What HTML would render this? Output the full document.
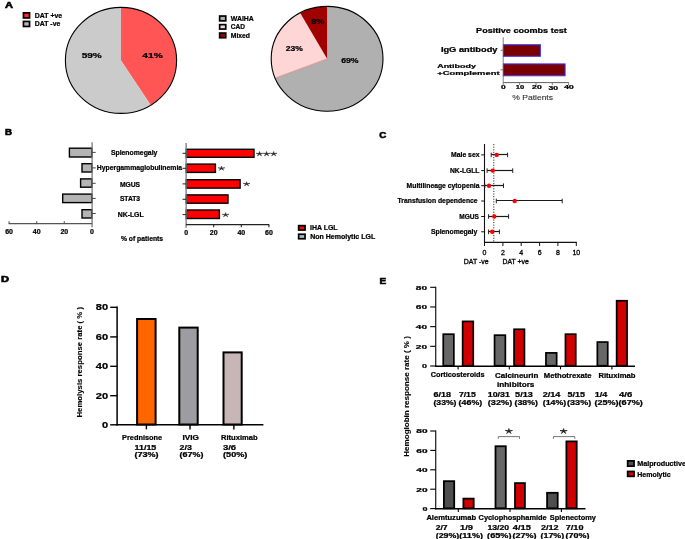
<!DOCTYPE html>
<html><head><meta charset="utf-8"><style>
html,body{margin:0;padding:0;background:#fff;}
svg{display:block;will-change:transform;font-family:"Liberation Sans",sans-serif;}
</style></head><body>
<svg width="685" height="539" viewBox="0 0 685 539">
<rect width="685" height="539" fill="#fff"/>
<text x="5.10" y="7.70" font-size="9.01" font-weight="bold" text-anchor="start" fill="#000" textLength="8.00" lengthAdjust="spacingAndGlyphs" stroke="#000" stroke-width="0.6">A</text>
<rect x="23.45" y="12.85" width="6.10" height="5.10" fill="#FF2A2A" stroke="#000" stroke-width="1.7"/>
<rect x="23.45" y="21.45" width="6.10" height="5.00" fill="#B8B8B8" stroke="#000" stroke-width="1.7"/>
<text x="34.80" y="17.70" font-size="6.69" font-weight="bold" text-anchor="start" fill="#000" textLength="27.40" lengthAdjust="spacingAndGlyphs" stroke="#000" stroke-width="0.22">DAT +ve</text>
<text x="34.80" y="26.10" font-size="6.69" font-weight="bold" text-anchor="start" fill="#000" textLength="25.50" lengthAdjust="spacingAndGlyphs" stroke="#000" stroke-width="0.22">DAT -ve</text>
<path d="M121.00,60.40 L121.00,7.40 A55.6,53 0 0 1 150.79,105.15 Z" fill="#FF5555" stroke="none" stroke-width="0"/>
<path d="M121.00,60.40 L150.79,105.15 A55.6,53 0 1 1 121.00,7.40 Z" fill="#CBCBCB" stroke="none" stroke-width="0"/>
<ellipse cx="121" cy="60.4" rx="55.6" ry="53" fill="none" stroke="#000" stroke-width="1.1"/>
<text x="81.70" y="58.20" font-size="7.41" font-weight="bold" text-anchor="start" fill="#000" textLength="20.10" lengthAdjust="spacingAndGlyphs" stroke="#000" stroke-width="0.22">59%</text>
<text x="142.30" y="58.20" font-size="7.41" font-weight="bold" text-anchor="start" fill="#000" textLength="20.40" lengthAdjust="spacingAndGlyphs" stroke="#000" stroke-width="0.22">41%</text>
<rect x="219.65" y="16.05" width="6.10" height="4.80" fill="#B0B0B0" stroke="#000" stroke-width="1.7"/>
<rect x="219.65" y="24.65" width="6.10" height="4.40" fill="#FFD6D6" stroke="#000" stroke-width="1.7"/>
<rect x="219.65" y="33.05" width="6.10" height="4.70" fill="#A00000" stroke="#000" stroke-width="1.7"/>
<text x="230.80" y="20.70" font-size="6.69" font-weight="bold" text-anchor="start" fill="#000" textLength="23.00" lengthAdjust="spacingAndGlyphs" stroke="#000" stroke-width="0.22">WAIHA</text>
<text x="230.80" y="29.30" font-size="6.69" font-weight="bold" text-anchor="start" fill="#000" textLength="14.20" lengthAdjust="spacingAndGlyphs" stroke="#000" stroke-width="0.22">CAD</text>
<text x="230.80" y="37.90" font-size="6.69" font-weight="bold" text-anchor="start" fill="#000" textLength="19.10" lengthAdjust="spacingAndGlyphs" stroke="#000" stroke-width="0.22">Mixed</text>
<path d="M327.10,58.80 L327.10,6.40 A55.9,52.4 0 1 1 275.13,78.09 Z" fill="#B0B0B0" stroke="none" stroke-width="0"/>
<path d="M327.10,58.80 L275.13,78.09 A55.9,52.4 0 0 1 300.17,12.88 Z" fill="#FFD6D6" stroke="none" stroke-width="0"/>
<path d="M327.10,58.80 L300.17,12.88 A55.9,52.4 0 0 1 327.10,6.40 Z" fill="#A00000" stroke="none" stroke-width="0"/>
<line x1="327.10" y1="58.80" x2="275.13" y2="78.09" stroke="#F08080" stroke-width="0.7"/>
<ellipse cx="327.1" cy="58.8" rx="55.9" ry="52.4" fill="none" stroke="#000" stroke-width="1.1"/>
<text x="311.30" y="24.00" font-size="6.98" font-weight="bold" text-anchor="start" fill="#000" textLength="13.10" lengthAdjust="spacingAndGlyphs" stroke="#000" stroke-width="0.22">8%</text>
<text x="285.80" y="50.90" font-size="6.98" font-weight="bold" text-anchor="start" fill="#000" textLength="17.00" lengthAdjust="spacingAndGlyphs" stroke="#000" stroke-width="0.22">23%</text>
<text x="341.20" y="63.10" font-size="6.98" font-weight="bold" text-anchor="start" fill="#000" textLength="17.40" lengthAdjust="spacingAndGlyphs" stroke="#000" stroke-width="0.22">69%</text>
<text x="476.10" y="32.60" font-size="6.69" font-weight="bold" text-anchor="start" fill="#000" textLength="90.70" lengthAdjust="spacingAndGlyphs" stroke="#000" stroke-width="0.22">Positive coombs test</text>
<line x1="503.20" y1="37.30" x2="503.20" y2="82.60" stroke="#808080" stroke-width="1"/>
<line x1="503.20" y1="82.60" x2="568.80" y2="82.60" stroke="#606060" stroke-width="1"/>
<line x1="503.20" y1="82.60" x2="503.20" y2="85.00" stroke="#606060" stroke-width="0.8"/>
<line x1="519.60" y1="82.60" x2="519.60" y2="85.00" stroke="#606060" stroke-width="0.8"/>
<line x1="536.00" y1="82.60" x2="536.00" y2="85.00" stroke="#606060" stroke-width="0.8"/>
<line x1="552.30" y1="82.60" x2="552.30" y2="85.00" stroke="#606060" stroke-width="0.8"/>
<line x1="568.60" y1="82.60" x2="568.60" y2="85.00" stroke="#606060" stroke-width="0.8"/>
<line x1="500.50" y1="50.30" x2="503.20" y2="50.30" stroke="#606060" stroke-width="0.8"/>
<line x1="500.50" y1="69.80" x2="503.20" y2="69.80" stroke="#606060" stroke-width="0.8"/>
<rect x="503.40" y="44.70" width="37.00" height="11.60" fill="#7A0000" stroke="#3838FF" stroke-width="1.0"/>
<rect x="503.40" y="63.90" width="61.70" height="11.90" fill="#7A0000" stroke="#3838FF" stroke-width="1.0"/>
<text x="440.90" y="52.10" font-size="6.54" font-weight="bold" text-anchor="start" fill="#000" textLength="56.60" lengthAdjust="spacingAndGlyphs" stroke="#000" stroke-width="0.22">IgG antibody</text>
<text x="437.20" y="67.70" font-size="6.25" font-weight="bold" text-anchor="start" fill="#000" textLength="38.70" lengthAdjust="spacingAndGlyphs" stroke="#000" stroke-width="0.22">Antibody</text>
<text x="437.20" y="74.70" font-size="6.25" font-weight="bold" text-anchor="start" fill="#000" textLength="62.40" lengthAdjust="spacingAndGlyphs" stroke="#000" stroke-width="0.22">+Complement</text>
<text x="501.00" y="89.20" font-size="5.23" font-weight="bold" text-anchor="start" fill="#000" textLength="4.70" lengthAdjust="spacingAndGlyphs" stroke="#000" stroke-width="0.22">0</text>
<text x="515.80" y="89.20" font-size="5.23" font-weight="bold" text-anchor="start" fill="#000" textLength="8.40" lengthAdjust="spacingAndGlyphs" stroke="#000" stroke-width="0.22">10</text>
<text x="532.10" y="89.20" font-size="5.23" font-weight="bold" text-anchor="start" fill="#000" textLength="9.60" lengthAdjust="spacingAndGlyphs" stroke="#000" stroke-width="0.22">20</text>
<text x="548.50" y="89.60" font-size="5.23" font-weight="bold" text-anchor="start" fill="#000" textLength="9.60" lengthAdjust="spacingAndGlyphs" stroke="#000" stroke-width="0.22">30</text>
<text x="563.90" y="89.20" font-size="5.23" font-weight="bold" text-anchor="start" fill="#000" textLength="9.90" lengthAdjust="spacingAndGlyphs" stroke="#000" stroke-width="0.22">40</text>
<text x="512.30" y="100.10" font-size="6.40" font-weight="normal" text-anchor="start" fill="#333" textLength="40.70" lengthAdjust="spacingAndGlyphs" stroke="#333" stroke-width="0.1">% Patients</text>
<text x="4.90" y="135.30" font-size="8.72" font-weight="bold" text-anchor="start" fill="#000" textLength="7.00" lengthAdjust="spacingAndGlyphs" stroke="#000" stroke-width="0.6">B</text>
<rect x="69.40" y="148.20" width="22.50" height="8.80" fill="#B4B4B4" stroke="#000" stroke-width="1.4"/>
<rect x="82.00" y="163.70" width="9.90" height="8.30" fill="#B4B4B4" stroke="#000" stroke-width="1.4"/>
<rect x="80.60" y="178.90" width="11.30" height="8.30" fill="#B4B4B4" stroke="#000" stroke-width="1.4"/>
<rect x="62.70" y="194.10" width="29.20" height="8.50" fill="#B4B4B4" stroke="#000" stroke-width="1.4"/>
<rect x="82.00" y="209.70" width="9.90" height="8.30" fill="#B4B4B4" stroke="#000" stroke-width="1.4"/>
<line x1="92.10" y1="142.30" x2="92.10" y2="227.20" stroke="#787878" stroke-width="1.3"/>
<line x1="8.60" y1="223.60" x2="92.10" y2="223.60" stroke="#555" stroke-width="1.3"/>
<line x1="9.10" y1="223.60" x2="9.10" y2="221.30" stroke="#555" stroke-width="1.1"/>
<line x1="36.70" y1="223.60" x2="36.70" y2="221.30" stroke="#555" stroke-width="1.1"/>
<line x1="64.30" y1="223.60" x2="64.30" y2="221.30" stroke="#555" stroke-width="1.1"/>
<line x1="92.10" y1="152.40" x2="95.70" y2="152.40" stroke="#444" stroke-width="1"/>
<line x1="92.10" y1="167.90" x2="95.70" y2="167.90" stroke="#444" stroke-width="1"/>
<line x1="92.10" y1="183.30" x2="95.70" y2="183.30" stroke="#444" stroke-width="1"/>
<line x1="92.10" y1="198.40" x2="95.70" y2="198.40" stroke="#444" stroke-width="1"/>
<line x1="92.10" y1="213.50" x2="95.70" y2="213.50" stroke="#444" stroke-width="1"/>
<text x="5.20" y="234.10" font-size="6.98" font-weight="bold" text-anchor="start" fill="#000" textLength="7.80" lengthAdjust="spacingAndGlyphs" stroke="#000" stroke-width="0.22">60</text>
<text x="32.80" y="234.10" font-size="6.98" font-weight="bold" text-anchor="start" fill="#000" textLength="7.80" lengthAdjust="spacingAndGlyphs" stroke="#000" stroke-width="0.22">40</text>
<text x="60.40" y="234.10" font-size="6.98" font-weight="bold" text-anchor="start" fill="#000" textLength="7.80" lengthAdjust="spacingAndGlyphs" stroke="#000" stroke-width="0.22">20</text>
<text x="90.05" y="234.10" font-size="6.98" font-weight="bold" text-anchor="start" fill="#000" textLength="3.90" lengthAdjust="spacingAndGlyphs" stroke="#000" stroke-width="0.22">0</text>
<text x="110.90" y="155.00" font-size="6.69" font-weight="bold" text-anchor="start" fill="#000" textLength="46.50" lengthAdjust="spacingAndGlyphs" stroke="#000" stroke-width="0.22">Splenomegaly</text>
<text x="96.80" y="170.40" font-size="6.69" font-weight="bold" text-anchor="start" fill="#000" textLength="85.30" lengthAdjust="spacingAndGlyphs" stroke="#000" stroke-width="0.22">Hypergammaglobulinemia</text>
<text x="119.90" y="186.80" font-size="6.69" font-weight="bold" text-anchor="start" fill="#000" textLength="20.20" lengthAdjust="spacingAndGlyphs" stroke="#000" stroke-width="0.22">MGUS</text>
<text x="119.90" y="200.80" font-size="6.69" font-weight="bold" text-anchor="start" fill="#000" textLength="20.20" lengthAdjust="spacingAndGlyphs" stroke="#000" stroke-width="0.22">STAT3</text>
<text x="117.70" y="216.60" font-size="6.69" font-weight="bold" text-anchor="start" fill="#000" textLength="26.00" lengthAdjust="spacingAndGlyphs" stroke="#000" stroke-width="0.22">NK-LGL</text>
<rect x="186.30" y="149.30" width="67.70" height="8.00" fill="#FF0000" stroke="#000" stroke-width="1.4"/>
<rect x="186.30" y="164.10" width="29.10" height="8.30" fill="#FF0000" stroke="#000" stroke-width="1.4"/>
<rect x="186.30" y="179.70" width="53.80" height="8.40" fill="#FF0000" stroke="#000" stroke-width="1.4"/>
<rect x="186.30" y="194.90" width="41.70" height="8.30" fill="#FF0000" stroke="#000" stroke-width="1.4"/>
<rect x="186.30" y="210.00" width="33.10" height="8.50" fill="#FF0000" stroke="#000" stroke-width="1.4"/>
<line x1="186.10" y1="143.10" x2="186.10" y2="227.80" stroke="#787878" stroke-width="1.3"/>
<line x1="186.10" y1="224.60" x2="269.20" y2="224.60" stroke="#222" stroke-width="1.1"/>
<line x1="213.70" y1="224.60" x2="213.70" y2="227.20" stroke="#222" stroke-width="1.1"/>
<line x1="241.30" y1="224.60" x2="241.30" y2="227.20" stroke="#222" stroke-width="1.1"/>
<line x1="268.90" y1="224.60" x2="268.90" y2="227.20" stroke="#222" stroke-width="1.1"/>
<line x1="182.50" y1="153.30" x2="186.10" y2="153.30" stroke="#222" stroke-width="1"/>
<line x1="182.50" y1="168.30" x2="186.10" y2="168.30" stroke="#222" stroke-width="1"/>
<line x1="182.50" y1="183.90" x2="186.10" y2="183.90" stroke="#222" stroke-width="1"/>
<line x1="182.50" y1="199.30" x2="186.10" y2="199.30" stroke="#222" stroke-width="1"/>
<line x1="182.50" y1="214.60" x2="186.10" y2="214.60" stroke="#222" stroke-width="1"/>
<text x="184.15" y="235.00" font-size="6.98" font-weight="bold" text-anchor="start" fill="#000" textLength="3.90" lengthAdjust="spacingAndGlyphs" stroke="#000" stroke-width="0.22">0</text>
<text x="209.80" y="235.00" font-size="6.98" font-weight="bold" text-anchor="start" fill="#000" textLength="7.80" lengthAdjust="spacingAndGlyphs" stroke="#000" stroke-width="0.22">20</text>
<text x="237.40" y="235.00" font-size="6.98" font-weight="bold" text-anchor="start" fill="#000" textLength="7.80" lengthAdjust="spacingAndGlyphs" stroke="#000" stroke-width="0.22">40</text>
<text x="265.00" y="235.00" font-size="6.98" font-weight="bold" text-anchor="start" fill="#000" textLength="7.80" lengthAdjust="spacingAndGlyphs" stroke="#000" stroke-width="0.22">60</text>
<text x="120.90" y="241.30" font-size="6.69" font-weight="bold" text-anchor="start" fill="#000" textLength="42.20" lengthAdjust="spacingAndGlyphs" stroke="#000" stroke-width="0.22">% of patients</text>
<path d="M259.50,151.46 L260.01,153.37 L262.92,153.26 L260.34,154.04 L261.69,155.96 L259.50,154.45 L257.31,155.96 L258.66,154.04 L256.08,153.26 L258.99,153.37 Z" stroke="#222" stroke-width="0.47" stroke-linejoin="round" fill="#222"/>
<path d="M266.60,151.46 L267.11,153.37 L270.02,153.26 L267.44,154.04 L268.79,155.96 L266.60,154.45 L264.42,155.96 L265.76,154.04 L263.18,153.26 L266.09,153.37 Z" stroke="#222" stroke-width="0.47" stroke-linejoin="round" fill="#222"/>
<path d="M273.70,151.46 L274.21,153.37 L277.12,153.26 L274.54,154.04 L275.88,155.96 L273.70,154.45 L271.51,155.96 L272.86,154.04 L270.28,153.26 L273.19,153.37 Z" stroke="#222" stroke-width="0.47" stroke-linejoin="round" fill="#222"/>
<path d="M221.50,166.09 L222.01,167.89 L224.92,167.79 L222.34,168.53 L223.69,170.34 L221.50,168.91 L219.31,170.34 L220.66,168.53 L218.08,167.79 L220.99,167.89 Z" stroke="#222" stroke-width="0.47" stroke-linejoin="round" fill="#222"/>
<path d="M246.60,181.69 L247.11,183.49 L250.02,183.39 L247.44,184.13 L248.78,185.94 L246.60,184.51 L244.41,185.94 L245.76,184.13 L243.18,183.39 L246.09,183.49 Z" stroke="#222" stroke-width="0.47" stroke-linejoin="round" fill="#222"/>
<path d="M225.60,212.59 L226.11,214.39 L229.02,214.29 L226.44,215.03 L227.78,216.84 L225.60,215.41 L223.41,216.84 L224.76,215.03 L222.18,214.29 L225.09,214.39 Z" stroke="#222" stroke-width="0.47" stroke-linejoin="round" fill="#222"/>
<rect x="298.65" y="225.65" width="6.40" height="4.40" fill="#FF0000" stroke="#000" stroke-width="1.7"/>
<rect x="298.65" y="234.25" width="6.40" height="4.50" fill="#B4B4B4" stroke="#000" stroke-width="1.7"/>
<text x="310.10" y="229.90" font-size="6.69" font-weight="bold" text-anchor="start" fill="#000" textLength="27.50" lengthAdjust="spacingAndGlyphs" stroke="#000" stroke-width="0.22">IHA LGL</text>
<text x="310.20" y="238.80" font-size="6.54" font-weight="bold" text-anchor="start" fill="#000" textLength="65.00" lengthAdjust="spacingAndGlyphs" stroke="#000" stroke-width="0.22">Non Hemolytic LGL</text>
<text x="379.30" y="138.20" font-size="9.59" font-weight="bold" text-anchor="start" fill="#000" textLength="7.00" lengthAdjust="spacingAndGlyphs" stroke="#000" stroke-width="0.6">C</text>
<line x1="484.50" y1="144.00" x2="484.50" y2="242.80" stroke="#111" stroke-width="1.1"/>
<line x1="484.00" y1="242.30" x2="576.80" y2="242.30" stroke="#111" stroke-width="1.2"/>
<line x1="484.50" y1="242.30" x2="484.50" y2="246.00" stroke="#111" stroke-width="1.0"/>
<line x1="502.90" y1="242.30" x2="502.90" y2="246.00" stroke="#111" stroke-width="1.0"/>
<line x1="521.20" y1="242.30" x2="521.20" y2="246.00" stroke="#111" stroke-width="1.0"/>
<line x1="539.60" y1="242.30" x2="539.60" y2="246.00" stroke="#111" stroke-width="1.0"/>
<line x1="557.90" y1="242.30" x2="557.90" y2="246.00" stroke="#111" stroke-width="1.0"/>
<line x1="576.30" y1="242.30" x2="576.30" y2="246.00" stroke="#111" stroke-width="1.0"/>
<line x1="493.80" y1="144.00" x2="493.80" y2="242.00" stroke="#333" stroke-width="1.0" stroke-dasharray="1.2,1.4"/>
<line x1="481.20" y1="154.90" x2="484.50" y2="154.90" stroke="#111" stroke-width="1"/>
<line x1="491.20" y1="154.50" x2="507.60" y2="154.50" stroke="#1a1a1a" stroke-width="1.2"/>
<line x1="491.20" y1="152.60" x2="491.20" y2="157.20" stroke="#222" stroke-width="1.0"/>
<line x1="507.60" y1="152.60" x2="507.60" y2="157.20" stroke="#222" stroke-width="1.0"/>
<circle cx="496.7" cy="154.9" r="2.2" fill="#FF0000"/>
<line x1="481.20" y1="170.60" x2="484.50" y2="170.60" stroke="#111" stroke-width="1"/>
<line x1="487.10" y1="170.50" x2="512.70" y2="170.50" stroke="#1a1a1a" stroke-width="1.2"/>
<line x1="487.10" y1="168.30" x2="487.10" y2="172.90" stroke="#222" stroke-width="1.0"/>
<line x1="512.70" y1="168.30" x2="512.70" y2="172.90" stroke="#222" stroke-width="1.0"/>
<circle cx="492.7" cy="170.6" r="2.2" fill="#FF0000"/>
<line x1="481.20" y1="185.70" x2="484.50" y2="185.70" stroke="#111" stroke-width="1"/>
<line x1="484.80" y1="185.50" x2="503.50" y2="185.50" stroke="#1a1a1a" stroke-width="1.2"/>
<line x1="484.80" y1="183.40" x2="484.80" y2="188.00" stroke="#222" stroke-width="1.0"/>
<line x1="503.50" y1="183.40" x2="503.50" y2="188.00" stroke="#222" stroke-width="1.0"/>
<circle cx="489.0" cy="185.7" r="2.2" fill="#FF0000"/>
<line x1="481.20" y1="201.00" x2="484.50" y2="201.00" stroke="#111" stroke-width="1"/>
<line x1="496.30" y1="200.50" x2="562.20" y2="200.50" stroke="#1a1a1a" stroke-width="1.2"/>
<line x1="496.30" y1="198.70" x2="496.30" y2="203.30" stroke="#222" stroke-width="1.0"/>
<line x1="562.20" y1="198.70" x2="562.20" y2="203.30" stroke="#222" stroke-width="1.0"/>
<circle cx="514.7" cy="201.0" r="2.2" fill="#FF0000"/>
<line x1="481.20" y1="216.50" x2="484.50" y2="216.50" stroke="#111" stroke-width="1"/>
<line x1="488.60" y1="216.50" x2="508.60" y2="216.50" stroke="#1a1a1a" stroke-width="1.2"/>
<line x1="488.60" y1="214.20" x2="488.60" y2="218.80" stroke="#222" stroke-width="1.0"/>
<line x1="508.60" y1="214.20" x2="508.60" y2="218.80" stroke="#222" stroke-width="1.0"/>
<circle cx="494.3" cy="216.5" r="2.2" fill="#FF0000"/>
<line x1="481.20" y1="231.80" x2="484.50" y2="231.80" stroke="#111" stroke-width="1"/>
<line x1="488.60" y1="231.50" x2="499.40" y2="231.50" stroke="#1a1a1a" stroke-width="1.2"/>
<line x1="488.60" y1="229.50" x2="488.60" y2="234.10" stroke="#222" stroke-width="1.0"/>
<line x1="499.40" y1="229.50" x2="499.40" y2="234.10" stroke="#222" stroke-width="1.0"/>
<circle cx="492.2" cy="231.8" r="2.2" fill="#FF0000"/>
<text x="451.00" y="157.20" font-size="6.69" font-weight="bold" text-anchor="start" fill="#000" textLength="28.50" lengthAdjust="spacingAndGlyphs" stroke="#000" stroke-width="0.22">Male sex</text>
<text x="449.90" y="172.90" font-size="6.69" font-weight="bold" text-anchor="start" fill="#000" textLength="29.60" lengthAdjust="spacingAndGlyphs" stroke="#000" stroke-width="0.22">NK-LGLL</text>
<text x="406.60" y="188.00" font-size="6.69" font-weight="bold" text-anchor="start" fill="#000" textLength="72.90" lengthAdjust="spacingAndGlyphs" stroke="#000" stroke-width="0.22">Multilineage cytopenia</text>
<text x="397.60" y="203.30" font-size="6.69" font-weight="bold" text-anchor="start" fill="#000" textLength="80.00" lengthAdjust="spacingAndGlyphs" stroke="#000" stroke-width="0.22">Transfusion dependence</text>
<text x="459.30" y="218.80" font-size="6.69" font-weight="bold" text-anchor="start" fill="#000" textLength="19.70" lengthAdjust="spacingAndGlyphs" stroke="#000" stroke-width="0.22">MGUS</text>
<text x="430.90" y="234.10" font-size="6.69" font-weight="bold" text-anchor="start" fill="#000" textLength="46.40" lengthAdjust="spacingAndGlyphs" stroke="#000" stroke-width="0.22">Splenomegaly</text>
<text x="482.55" y="254.90" font-size="7.12" font-weight="normal" text-anchor="start" fill="#000" textLength="3.90" lengthAdjust="spacingAndGlyphs" stroke="#000" stroke-width="0.3">0</text>
<text x="500.95" y="254.90" font-size="7.12" font-weight="normal" text-anchor="start" fill="#000" textLength="3.90" lengthAdjust="spacingAndGlyphs" stroke="#000" stroke-width="0.3">2</text>
<text x="519.25" y="254.90" font-size="7.12" font-weight="normal" text-anchor="start" fill="#000" textLength="3.90" lengthAdjust="spacingAndGlyphs" stroke="#000" stroke-width="0.3">4</text>
<text x="537.65" y="254.90" font-size="7.12" font-weight="normal" text-anchor="start" fill="#000" textLength="3.90" lengthAdjust="spacingAndGlyphs" stroke="#000" stroke-width="0.3">6</text>
<text x="555.95" y="254.90" font-size="7.12" font-weight="normal" text-anchor="start" fill="#000" textLength="3.90" lengthAdjust="spacingAndGlyphs" stroke="#000" stroke-width="0.3">8</text>
<text x="572.40" y="254.90" font-size="7.12" font-weight="normal" text-anchor="start" fill="#000" textLength="7.80" lengthAdjust="spacingAndGlyphs" stroke="#000" stroke-width="0.3">10</text>
<text x="463.80" y="264.10" font-size="6.83" font-weight="normal" text-anchor="start" fill="#000" textLength="24.80" lengthAdjust="spacingAndGlyphs" stroke="#000" stroke-width="0.3">DAT -ve</text>
<text x="502.50" y="264.10" font-size="6.83" font-weight="normal" text-anchor="start" fill="#000" textLength="26.30" lengthAdjust="spacingAndGlyphs" stroke="#000" stroke-width="0.3">DAT +ve</text>
<text x="1.00" y="281.90" font-size="8.87" font-weight="bold" text-anchor="start" fill="#000" textLength="8.00" lengthAdjust="spacingAndGlyphs" stroke="#000" stroke-width="0.6">D</text>
<line x1="117.10" y1="306.50" x2="117.10" y2="425.60" stroke="#000" stroke-width="1.5"/>
<line x1="116.40" y1="424.80" x2="263.40" y2="424.80" stroke="#000" stroke-width="1.5"/>
<line x1="110.20" y1="307.30" x2="117.10" y2="307.30" stroke="#000" stroke-width="1.4"/>
<line x1="110.20" y1="336.90" x2="117.10" y2="336.90" stroke="#000" stroke-width="1.4"/>
<line x1="110.20" y1="366.30" x2="117.10" y2="366.30" stroke="#000" stroke-width="1.4"/>
<line x1="110.20" y1="395.70" x2="117.10" y2="395.70" stroke="#000" stroke-width="1.4"/>
<line x1="110.20" y1="424.80" x2="117.10" y2="424.80" stroke="#000" stroke-width="1.4"/>
<text x="95.80" y="310.30" font-size="8.14" font-weight="bold" text-anchor="start" fill="#000" textLength="12.30" lengthAdjust="spacingAndGlyphs" stroke="#000" stroke-width="0.22">80</text>
<text x="95.80" y="339.90" font-size="8.14" font-weight="bold" text-anchor="start" fill="#000" textLength="12.30" lengthAdjust="spacingAndGlyphs" stroke="#000" stroke-width="0.22">60</text>
<text x="95.80" y="369.20" font-size="8.14" font-weight="bold" text-anchor="start" fill="#000" textLength="12.30" lengthAdjust="spacingAndGlyphs" stroke="#000" stroke-width="0.22">40</text>
<text x="95.80" y="398.80" font-size="8.14" font-weight="bold" text-anchor="start" fill="#000" textLength="12.30" lengthAdjust="spacingAndGlyphs" stroke="#000" stroke-width="0.22">20</text>
<text x="101.95" y="427.60" font-size="8.14" font-weight="bold" text-anchor="start" fill="#000" textLength="6.15" lengthAdjust="spacingAndGlyphs" stroke="#000" stroke-width="0.22">0</text>
<rect x="137.10" y="319.00" width="18.50" height="105.50" fill="#FF6600" stroke="#000" stroke-width="2.0"/>
<rect x="179.30" y="327.60" width="18.40" height="96.90" fill="#9D9CA1" stroke="#000" stroke-width="2.0"/>
<rect x="223.50" y="352.40" width="18.20" height="72.10" fill="#C8B5B5" stroke="#000" stroke-width="2.0"/>
<line x1="146.40" y1="424.80" x2="146.40" y2="429.40" stroke="#000" stroke-width="1.4"/>
<line x1="190.00" y1="424.80" x2="190.00" y2="429.40" stroke="#000" stroke-width="1.4"/>
<line x1="233.90" y1="424.80" x2="233.90" y2="429.40" stroke="#000" stroke-width="1.4"/>
<text x="122.10" y="439.70" font-size="6.69" font-weight="bold" text-anchor="start" fill="#000" textLength="40.00" lengthAdjust="spacingAndGlyphs" stroke="#000" stroke-width="0.22">Prednisone</text>
<text x="182.40" y="439.70" font-size="6.69" font-weight="bold" text-anchor="start" fill="#000" textLength="16.40" lengthAdjust="spacingAndGlyphs" stroke="#000" stroke-width="0.22">IVIG</text>
<text x="221.00" y="439.70" font-size="6.69" font-weight="bold" text-anchor="start" fill="#000" textLength="36.60" lengthAdjust="spacingAndGlyphs" stroke="#000" stroke-width="0.22">Rituximab</text>
<text x="134.50" y="449.90" font-size="6.69" font-weight="bold" text-anchor="start" fill="#000" textLength="21.80" lengthAdjust="spacingAndGlyphs" stroke="#000" stroke-width="0.22">11/15</text>
<text x="134.50" y="457.20" font-size="6.40" font-weight="bold" text-anchor="start" fill="#000" textLength="24.10" lengthAdjust="spacingAndGlyphs" stroke="#000" stroke-width="0.22">(73%)</text>
<text x="179.60" y="449.90" font-size="6.69" font-weight="bold" text-anchor="start" fill="#000" textLength="12.20" lengthAdjust="spacingAndGlyphs" stroke="#000" stroke-width="0.22">2/3</text>
<text x="179.60" y="457.20" font-size="6.40" font-weight="bold" text-anchor="start" fill="#000" textLength="23.80" lengthAdjust="spacingAndGlyphs" stroke="#000" stroke-width="0.22">(67%)</text>
<text x="223.00" y="449.90" font-size="6.69" font-weight="bold" text-anchor="start" fill="#000" textLength="13.10" lengthAdjust="spacingAndGlyphs" stroke="#000" stroke-width="0.22">3/6</text>
<text x="223.00" y="457.20" font-size="6.40" font-weight="bold" text-anchor="start" fill="#000" textLength="24.40" lengthAdjust="spacingAndGlyphs" stroke="#000" stroke-width="0.22">(50%)</text>
<g transform="translate(81.9,362.25) rotate(-90)">
<text x="0.00" y="0.00" font-size="7.50" font-weight="bold" text-anchor="middle" fill="#000" textLength="110.50" lengthAdjust="spacingAndGlyphs" stroke="#000" stroke-width="0.1">Hemolysis response rate ( % )</text>
</g>
<text x="379.60" y="284.30" font-size="8.87" font-weight="bold" text-anchor="start" fill="#000" textLength="6.70" lengthAdjust="spacingAndGlyphs" stroke="#000" stroke-width="0.6">E</text>
<line x1="435.70" y1="286.80" x2="435.70" y2="366.60" stroke="#222" stroke-width="1.25"/>
<line x1="435.10" y1="366.20" x2="635.00" y2="366.20" stroke="#000" stroke-width="1.4"/>
<line x1="430.20" y1="366.00" x2="435.70" y2="366.00" stroke="#000" stroke-width="1.1"/>
<text x="422.00" y="368.30" font-size="5.67" font-weight="bold" text-anchor="start" fill="#000" textLength="5.00" lengthAdjust="spacingAndGlyphs" stroke="#000" stroke-width="0.22">0</text>
<line x1="430.20" y1="346.32" x2="435.70" y2="346.32" stroke="#000" stroke-width="1.1"/>
<text x="415.80" y="348.62" font-size="5.67" font-weight="bold" text-anchor="start" fill="#000" textLength="11.20" lengthAdjust="spacingAndGlyphs" stroke="#000" stroke-width="0.22">20</text>
<line x1="430.20" y1="326.65" x2="435.70" y2="326.65" stroke="#000" stroke-width="1.1"/>
<text x="415.80" y="328.95" font-size="5.67" font-weight="bold" text-anchor="start" fill="#000" textLength="11.20" lengthAdjust="spacingAndGlyphs" stroke="#000" stroke-width="0.22">40</text>
<line x1="430.20" y1="306.98" x2="435.70" y2="306.98" stroke="#000" stroke-width="1.1"/>
<text x="415.80" y="309.28" font-size="5.67" font-weight="bold" text-anchor="start" fill="#000" textLength="11.20" lengthAdjust="spacingAndGlyphs" stroke="#000" stroke-width="0.22">60</text>
<line x1="430.20" y1="287.30" x2="435.70" y2="287.30" stroke="#000" stroke-width="1.1"/>
<text x="415.80" y="289.60" font-size="5.67" font-weight="bold" text-anchor="start" fill="#000" textLength="11.20" lengthAdjust="spacingAndGlyphs" stroke="#000" stroke-width="0.22">80</text>
<line x1="458.10" y1="366.00" x2="458.10" y2="369.40" stroke="#000" stroke-width="1.1"/>
<line x1="509.30" y1="366.00" x2="509.30" y2="369.40" stroke="#000" stroke-width="1.1"/>
<line x1="560.50" y1="366.00" x2="560.50" y2="369.40" stroke="#000" stroke-width="1.1"/>
<line x1="611.90" y1="366.00" x2="611.90" y2="369.40" stroke="#000" stroke-width="1.1"/>
<rect x="443.25" y="334.19" width="10.60" height="31.56" fill="#676767" stroke="#000" stroke-width="1.7"/>
<rect x="462.65" y="321.40" width="10.60" height="44.35" fill="#D00000" stroke="#000" stroke-width="1.7"/>
<rect x="494.55" y="335.17" width="10.80" height="30.58" fill="#676767" stroke="#000" stroke-width="1.7"/>
<rect x="514.05" y="329.27" width="10.40" height="36.48" fill="#D00000" stroke="#000" stroke-width="1.7"/>
<rect x="545.95" y="352.88" width="10.70" height="12.87" fill="#676767" stroke="#000" stroke-width="1.7"/>
<rect x="565.45" y="334.19" width="10.30" height="31.56" fill="#D00000" stroke="#000" stroke-width="1.7"/>
<rect x="597.35" y="342.06" width="10.40" height="23.69" fill="#676767" stroke="#000" stroke-width="1.7"/>
<rect x="616.65" y="300.74" width="10.40" height="65.01" fill="#D00000" stroke="#000" stroke-width="1.7"/>
<line x1="435.70" y1="430.50" x2="435.70" y2="509.20" stroke="#222" stroke-width="1.25"/>
<line x1="435.10" y1="508.80" x2="585.50" y2="508.80" stroke="#000" stroke-width="1.4"/>
<line x1="430.20" y1="508.60" x2="435.70" y2="508.60" stroke="#000" stroke-width="1.1"/>
<text x="422.50" y="510.90" font-size="5.67" font-weight="bold" text-anchor="start" fill="#000" textLength="5.00" lengthAdjust="spacingAndGlyphs" stroke="#000" stroke-width="0.22">0</text>
<line x1="430.20" y1="489.20" x2="435.70" y2="489.20" stroke="#000" stroke-width="1.1"/>
<text x="416.30" y="491.50" font-size="5.67" font-weight="bold" text-anchor="start" fill="#000" textLength="11.20" lengthAdjust="spacingAndGlyphs" stroke="#000" stroke-width="0.22">20</text>
<line x1="430.20" y1="469.80" x2="435.70" y2="469.80" stroke="#000" stroke-width="1.1"/>
<text x="416.30" y="472.10" font-size="5.67" font-weight="bold" text-anchor="start" fill="#000" textLength="11.20" lengthAdjust="spacingAndGlyphs" stroke="#000" stroke-width="0.22">40</text>
<line x1="430.20" y1="450.40" x2="435.70" y2="450.40" stroke="#000" stroke-width="1.1"/>
<text x="416.30" y="452.70" font-size="5.67" font-weight="bold" text-anchor="start" fill="#000" textLength="11.20" lengthAdjust="spacingAndGlyphs" stroke="#000" stroke-width="0.22">60</text>
<line x1="430.20" y1="431.00" x2="435.70" y2="431.00" stroke="#000" stroke-width="1.1"/>
<text x="416.30" y="433.30" font-size="5.67" font-weight="bold" text-anchor="start" fill="#000" textLength="11.20" lengthAdjust="spacingAndGlyphs" stroke="#000" stroke-width="0.22">80</text>
<line x1="458.30" y1="508.60" x2="458.30" y2="512.00" stroke="#000" stroke-width="1.1"/>
<line x1="510.00" y1="508.60" x2="510.00" y2="512.00" stroke="#000" stroke-width="1.1"/>
<line x1="561.40" y1="508.60" x2="561.40" y2="512.00" stroke="#000" stroke-width="1.1"/>
<rect x="443.90" y="481.17" width="10.30" height="27.13" fill="#4F4F4F" stroke="#000" stroke-width="1.8"/>
<rect x="463.40" y="498.63" width="10.30" height="9.67" fill="#D00000" stroke="#000" stroke-width="1.8"/>
<rect x="495.50" y="446.25" width="10.30" height="62.05" fill="#676767" stroke="#000" stroke-width="1.8"/>
<rect x="515.00" y="483.11" width="9.90" height="25.19" fill="#D00000" stroke="#000" stroke-width="1.8"/>
<rect x="547.10" y="492.81" width="10.60" height="15.49" fill="#4F4F4F" stroke="#000" stroke-width="1.8"/>
<rect x="566.40" y="441.40" width="10.30" height="66.90" fill="#D00000" stroke="#000" stroke-width="1.8"/>
<path d="M498.3,438.8 L498.3,436.6 L519.5,436.6 L519.5,438.8" fill="none" stroke="#666" stroke-width="0.9"/>
<path d="M508.90,428.50 L509.44,430.62 L512.50,430.50 L509.78,431.37 L511.20,433.50 L508.90,431.82 L506.60,433.50 L508.01,431.37 L505.30,430.50 L508.36,430.62 Z" stroke="#1a1a1a" stroke-width="0.68" stroke-linejoin="round" fill="#1a1a1a"/>
<path d="M553.4,438.8 L553.4,436.6 L574.8,436.6 L574.8,438.8" fill="none" stroke="#666" stroke-width="0.9"/>
<path d="M563.60,428.50 L564.14,430.62 L567.20,430.50 L564.49,431.37 L565.90,433.50 L563.60,431.82 L561.30,433.50 L562.72,431.37 L560.00,430.50 L563.06,430.62 Z" stroke="#1a1a1a" stroke-width="0.68" stroke-linejoin="round" fill="#1a1a1a"/>
<text x="430.80" y="377.00" font-size="6.69" font-weight="bold" text-anchor="start" fill="#000" textLength="53.80" lengthAdjust="spacingAndGlyphs" stroke="#000" stroke-width="0.22">Corticosteroids</text>
<text x="495.00" y="378.30" font-size="6.69" font-weight="bold" text-anchor="start" fill="#000" textLength="43.40" lengthAdjust="spacingAndGlyphs" stroke="#000" stroke-width="0.22">Calcineurin</text>
<text x="497.10" y="386.70" font-size="6.69" font-weight="bold" text-anchor="start" fill="#000" textLength="37.30" lengthAdjust="spacingAndGlyphs" stroke="#000" stroke-width="0.22">inhibitors</text>
<text x="543.80" y="378.30" font-size="6.69" font-weight="bold" text-anchor="start" fill="#000" textLength="47.70" lengthAdjust="spacingAndGlyphs" stroke="#000" stroke-width="0.22">Methotrexate</text>
<text x="598.40" y="378.30" font-size="6.69" font-weight="bold" text-anchor="start" fill="#000" textLength="37.00" lengthAdjust="spacingAndGlyphs" stroke="#000" stroke-width="0.22">Rituximab</text>
<text x="433.50" y="397.00" font-size="6.69" font-weight="bold" text-anchor="start" fill="#000" textLength="17.40" lengthAdjust="spacingAndGlyphs" stroke="#000" stroke-width="0.22">6/18</text>
<text x="458.90" y="397.00" font-size="6.69" font-weight="bold" text-anchor="start" fill="#000" textLength="16.90" lengthAdjust="spacingAndGlyphs" stroke="#000" stroke-width="0.22">7/15</text>
<text x="487.80" y="397.00" font-size="6.69" font-weight="bold" text-anchor="start" fill="#000" textLength="22.00" lengthAdjust="spacingAndGlyphs" stroke="#000" stroke-width="0.22">10/31</text>
<text x="515.10" y="397.00" font-size="6.69" font-weight="bold" text-anchor="start" fill="#000" textLength="17.70" lengthAdjust="spacingAndGlyphs" stroke="#000" stroke-width="0.22">5/13</text>
<text x="542.70" y="397.00" font-size="6.69" font-weight="bold" text-anchor="start" fill="#000" textLength="17.70" lengthAdjust="spacingAndGlyphs" stroke="#000" stroke-width="0.22">2/14</text>
<text x="567.60" y="397.00" font-size="6.69" font-weight="bold" text-anchor="start" fill="#000" textLength="17.50" lengthAdjust="spacingAndGlyphs" stroke="#000" stroke-width="0.22">5/15</text>
<text x="594.70" y="397.00" font-size="6.69" font-weight="bold" text-anchor="start" fill="#000" textLength="12.60" lengthAdjust="spacingAndGlyphs" stroke="#000" stroke-width="0.22">1/4</text>
<text x="619.00" y="397.00" font-size="6.69" font-weight="bold" text-anchor="start" fill="#000" textLength="13.20" lengthAdjust="spacingAndGlyphs" stroke="#000" stroke-width="0.22">4/6</text>
<text x="433.50" y="405.00" font-size="6.69" font-weight="bold" text-anchor="start" fill="#000" textLength="23.00" lengthAdjust="spacingAndGlyphs" stroke="#000" stroke-width="0.22">(33%)</text>
<text x="458.60" y="405.00" font-size="6.69" font-weight="bold" text-anchor="start" fill="#000" textLength="23.60" lengthAdjust="spacingAndGlyphs" stroke="#000" stroke-width="0.22">(46%)</text>
<text x="487.80" y="405.00" font-size="6.69" font-weight="bold" text-anchor="start" fill="#000" textLength="24.40" lengthAdjust="spacingAndGlyphs" stroke="#000" stroke-width="0.22">(32%)</text>
<text x="514.60" y="405.00" font-size="6.69" font-weight="bold" text-anchor="start" fill="#000" textLength="23.30" lengthAdjust="spacingAndGlyphs" stroke="#000" stroke-width="0.22">(38%)</text>
<text x="542.70" y="405.00" font-size="6.69" font-weight="bold" text-anchor="start" fill="#000" textLength="23.60" lengthAdjust="spacingAndGlyphs" stroke="#000" stroke-width="0.22">(14%)</text>
<text x="567.10" y="405.00" font-size="6.69" font-weight="bold" text-anchor="start" fill="#000" textLength="24.10" lengthAdjust="spacingAndGlyphs" stroke="#000" stroke-width="0.22">(33%)</text>
<text x="594.40" y="405.00" font-size="6.69" font-weight="bold" text-anchor="start" fill="#000" textLength="24.10" lengthAdjust="spacingAndGlyphs" stroke="#000" stroke-width="0.22">(25%)</text>
<text x="618.50" y="405.00" font-size="6.69" font-weight="bold" text-anchor="start" fill="#000" textLength="24.40" lengthAdjust="spacingAndGlyphs" stroke="#000" stroke-width="0.22">(67%)</text>
<text x="426.40" y="519.90" font-size="6.69" font-weight="bold" text-anchor="start" fill="#000" textLength="49.80" lengthAdjust="spacingAndGlyphs" stroke="#000" stroke-width="0.22">Alemtuzumab</text>
<text x="478.60" y="519.90" font-size="6.69" font-weight="bold" text-anchor="start" fill="#000" textLength="68.00" lengthAdjust="spacingAndGlyphs" stroke="#000" stroke-width="0.22">Cyclophosphamide</text>
<text x="549.80" y="519.90" font-size="6.69" font-weight="bold" text-anchor="start" fill="#000" textLength="46.10" lengthAdjust="spacingAndGlyphs" stroke="#000" stroke-width="0.22">Splenectomy</text>
<text x="435.70" y="529.80" font-size="6.69" font-weight="bold" text-anchor="start" fill="#000" textLength="11.90" lengthAdjust="spacingAndGlyphs" stroke="#000" stroke-width="0.22">2/7</text>
<text x="460.10" y="529.80" font-size="6.69" font-weight="bold" text-anchor="start" fill="#000" textLength="12.90" lengthAdjust="spacingAndGlyphs" stroke="#000" stroke-width="0.22">1/9</text>
<text x="487.40" y="529.80" font-size="6.69" font-weight="bold" text-anchor="start" fill="#000" textLength="21.70" lengthAdjust="spacingAndGlyphs" stroke="#000" stroke-width="0.22">13/20</text>
<text x="512.80" y="529.80" font-size="6.69" font-weight="bold" text-anchor="start" fill="#000" textLength="18.00" lengthAdjust="spacingAndGlyphs" stroke="#000" stroke-width="0.22">4/15</text>
<text x="541.00" y="529.80" font-size="6.69" font-weight="bold" text-anchor="start" fill="#000" textLength="17.60" lengthAdjust="spacingAndGlyphs" stroke="#000" stroke-width="0.22">2/12</text>
<text x="565.80" y="529.80" font-size="6.69" font-weight="bold" text-anchor="start" fill="#000" textLength="17.70" lengthAdjust="spacingAndGlyphs" stroke="#000" stroke-width="0.22">7/10</text>
<text x="435.70" y="537.60" font-size="6.69" font-weight="bold" text-anchor="start" fill="#000" textLength="23.60" lengthAdjust="spacingAndGlyphs" stroke="#000" stroke-width="0.22">(29%)</text>
<text x="459.30" y="537.60" font-size="6.69" font-weight="bold" text-anchor="start" fill="#000" textLength="23.70" lengthAdjust="spacingAndGlyphs" stroke="#000" stroke-width="0.22">(11%)</text>
<text x="487.10" y="537.60" font-size="6.69" font-weight="bold" text-anchor="start" fill="#000" textLength="24.40" lengthAdjust="spacingAndGlyphs" stroke="#000" stroke-width="0.22">(65%)</text>
<text x="512.50" y="537.60" font-size="6.69" font-weight="bold" text-anchor="start" fill="#000" textLength="24.10" lengthAdjust="spacingAndGlyphs" stroke="#000" stroke-width="0.22">(27%)</text>
<text x="540.50" y="537.60" font-size="6.69" font-weight="bold" text-anchor="start" fill="#000" textLength="23.70" lengthAdjust="spacingAndGlyphs" stroke="#000" stroke-width="0.22">(17%)</text>
<text x="565.50" y="537.60" font-size="6.69" font-weight="bold" text-anchor="start" fill="#000" textLength="23.90" lengthAdjust="spacingAndGlyphs" stroke="#000" stroke-width="0.22">(70%)</text>
<rect x="627.65" y="460.85" width="6.40" height="5.30" fill="#4F4F4F" stroke="#000" stroke-width="1.7"/>
<rect x="627.65" y="471.45" width="6.40" height="4.90" fill="#D00000" stroke="#000" stroke-width="1.7"/>
<text x="637.20" y="466.00" font-size="7.27" font-weight="bold" text-anchor="start" fill="#000" textLength="48.80" lengthAdjust="spacingAndGlyphs" stroke="#000" stroke-width="0.22">Malproductive</text>
<text x="637.20" y="476.70" font-size="7.27" font-weight="bold" text-anchor="start" fill="#000" textLength="33.50" lengthAdjust="spacingAndGlyphs" stroke="#000" stroke-width="0.22">Hemolytic</text>
<g transform="translate(409.1,396.40) rotate(-90)">
<text x="0.00" y="0.00" font-size="7.60" font-weight="bold" text-anchor="middle" fill="#000" textLength="120.60" lengthAdjust="spacingAndGlyphs" stroke="#000" stroke-width="0.1">Hemoglobin response rate ( % )</text>
</g>
</svg>
</body></html>
